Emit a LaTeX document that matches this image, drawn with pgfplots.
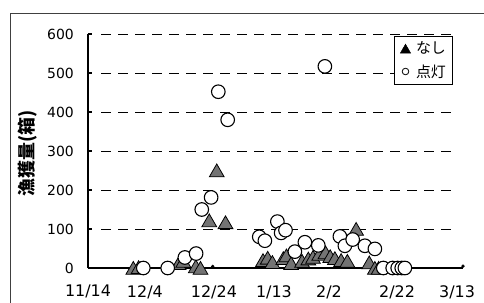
\documentclass[border=0pt]{standalone}
\usepackage{pgfplots}
\pgfplotsset{compat=1.18}
\usepackage{fontspec}
\setmainfont{DejaVu Sans}
\newfontfamily\tickfont{DejaVu Sans}
\newfontfamily\cjk{Noto Sans CJK JP}
\begin{document}
\begin{tikzpicture}
\path[use as bounding box] (-88bp,-35bp) rectangle (396bp,268bp);
\begin{axis}[
  at={(0,0)}, anchor=south west,
  scale only axis, width=375bp, height=234bp,
  xmin=0, xmax=120, ymin=0, ymax=600,
  clip=false,
  axis x line*=bottom, axis y line*=left,
  axis line style={line width=2.5bp, black},
  ytick={0,100,...,600},
  xtick={0,18.2,40.3,59.5,77.1,98.9,118.1},
  xticklabels={11/14,12/4,12/24,1/13,2/2,2/22,3/13},
  x tick style={draw=none},
  y tick style={line width=1.5bp, black},
  tick align=inside,
  major tick length=4bp,
  /pgf/number format/assume math mode=true,
  yticklabel style={font=\tickfont\fontsize{14}{14}\selectfont, inner sep=0pt, anchor=east, xshift=-14bp},
  xticklabel style={font=\tickfont\fontsize{16}{16}\selectfont, inner sep=0pt, anchor=north, yshift=-17bp},
  ylabel={漁獲量(箱)},
  ylabel style={font=\cjk\bfseries\fontsize{18}{18}\selectfont, at={(axis description cs:-0.16,0.491)}, anchor=center},
  legend style={at={(axis description cs:0.816,0.9915)}, anchor=north west, draw=black, line width=1bp,
    font=\cjk\fontsize{15}{15}\selectfont, inner xsep=5bp, inner ysep=4bp, row sep=6bp, column sep=3bp,
    nodes={inner sep=1.5bp}, fill=white},
  legend cell align=left,
]
\pgfplotsinvokeforeach{100,200,300,400,500,600}{
  \draw[black, line width=0.8bp, dash pattern=on 10bp off 7bp] (axis cs:4.2,#1) -- (axis cs:117.4,#1);
}
\addplot[only marks, mark=triangle*, mark size=8.5bp,
  mark options={fill=black!55, draw=black, line width=0.8bp, yshift=-2bp},
  legend image code/.code={\path[draw=none,fill=none] (-6bp,0) -- (6bp,0); \path plot[mark=triangle*, mark size=6bp, mark options={fill=black, draw=black, line width=0.5bp, yshift=-1.5bp}] coordinates {(0bp,0bp)};}]
coordinates {
(14.5,0)(16.2,2)(29,12)(30.5,18)(34.5,4)(36,0)(38.8,122)(41.2,250)(44,117)
(56,20)(57.5,26)(59,15)(62.5,25)(63.5,32)(65,12)(68.5,18)(70.5,24)(72,28)
(74,36)(76,40)(77.5,30)(79,25)(81,20)(83,18)(85.8,100)(90,14)(91.8,0)(93,0)
};
\addlegendentry{なし}
\addplot[only marks, mark=*, mark size=6.8bp,
  mark options={fill=white, draw=black, line width=1.1bp},
  legend image code/.code={\path[draw=none,fill=none] (-6bp,0) -- (6bp,0); \path plot[mark=*, mark size=3.3bp, mark options={fill=white, draw=black, line width=0.8bp}] coordinates {(0bp,0bp)};}]
coordinates {
(17.7,0)(25.5,0)(31,27)(34.6,37)(36.4,150)(39.4,181)(41.7,452)(44.7,380)
(54.8,80)(56.6,70)(60.6,119)(61.8,90)(63.2,97)(66.2,42)(69.4,66)(73.7,58)
(75.8,517)(80.6,81)(82.2,57)(84.7,73)(88.6,57)(91.8,49)
(94.5,0)(97.5,0)(99.1,0)(100.4,0)(101.4,0)
};
\addlegendentry{点灯}
\addplot[only marks, mark=*, mark size=1.5bp, black, forget plot] coordinates {(39.9,4)(120,5)};
\end{axis}
\draw[black!75, line width=0.8bp] (-77.5bp,-35bp) -- (-77.5bp,255bp) -- (396bp,255bp);
\end{tikzpicture}
\end{document}
